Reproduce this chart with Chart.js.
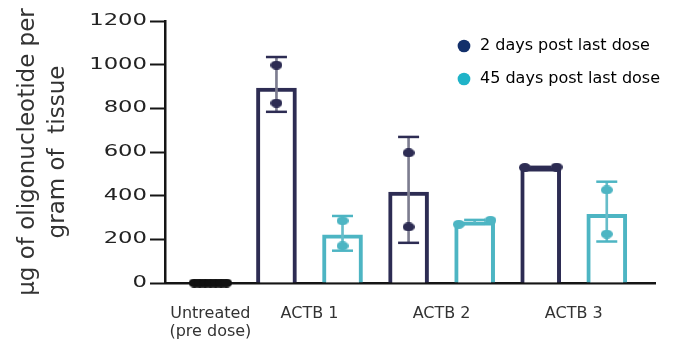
<!DOCTYPE html>
<html>
<head>
<meta charset="utf-8">
<script src="https://cdn.jsdelivr.net/npm/chart.js@4.4.1/dist/chart.umd.min.js"></script>
<style>
  html, body { margin: 0; padding: 0; background: #fff; }
  #chart { display: block; }
</style>
</head>
<body>
<canvas id="chart" width="686" height="345"></canvas>
<script>
// ---------- DATA ----------
const GROUP_LABELS   = [["Untreated", "(pre dose)"], "ACTB 1", "ACTB 2", "ACTB 3"];
const LEGEND_LABELS  = ["2 days post last dose", "45 days post last dose"];
const Y_TITLE        = ["µg of oligonucleotide per", "gram of  tissue"];

const UNTREATED_PTS  = [0, 0, 0, 0, 0, 0, 0];

const MEAN_2D        = [893, 417, 527];
const ERR_LO_2D      = [784, 184, 522];
const ERR_HI_2D      = [1035, 669, 532];
const PTS_2D         = [[998, 824], [596, 257], [529, 531]];

const MEAN_45D       = [221, 280, 315];
const ERR_LO_45D     = [148, 271, 190];
const ERR_HI_45D     = [307, 289, 464];
const PTS_45D        = [[285, 170], [269, 287], [426, 224]];

const Y_MAX = 1200, Y_STEP = 100, Y_LABEL_STEP = 200;

// ---------- STYLE ----------
const NAVY       = "#2d2c53";
const TEAL       = "#4db5c3";
const NAVY_STEM  = "#7d7d90";
const TEAL_STEM  = "#66bdc9";
const NAVY_LEG   = "#13306b";
const TEAL_LEG   = "#1fb3c8";
const AXIS       = "#151515";
const TEXT       = "#333";
const JITTER     = 0.24;     // half spread (in slots) for overlapping points
const TICK_STRETCH = 1.42;   // y tick numbers are drawn wide in the original
const LEGEND_LEFT  = 439;

Chart.defaults.font.family = "'DejaVu Sans', Verdana, sans-serif";
Chart.defaults.color = TEXT;

// slot 0 = untreated, then dark/teal pairs per group
const darkX  = MEAN_2D.map((_, i) => 2 * i + 1);
const tealX  = MEAN_45D.map((_, i) => 2 * i + 2);
const labelX = [0, ...darkX.map(x => x + 0.5)];

function spread(vals) {
  const close = Math.max(...vals) - Math.min(...vals) < 40;
  const n = vals.length;
  return vals.map((_, i) => (close && n > 1) ? -JITTER + 2 * JITTER * i / (n - 1) : 0);
}
function points(xs, groups) {
  const out = [];
  groups.forEach((vals, g) => {
    const off = spread(vals);
    vals.forEach((v, i) => out.push({ x: xs[g] + off[i], y: v }));
  });
  return out;
}
function makeDot(color) {
  const c = document.createElement("canvas");
  c.width = 12; c.height = 9;
  const g = c.getContext("2d");
  g.fillStyle = color;
  g.beginPath(); g.ellipse(6, 4.5, 6, 4.5, 0, 0, Math.PI * 2); g.fill();
  return c;
}

const bars = (xs, ys, color) => ({
  type: "bar", order: 4, grouped: false,
  data: xs.map((x, i) => ({ x, y: ys[i] })),
  backgroundColor: "#fff", borderColor: color, borderWidth: 4, barThickness: 40
});
const stems = (xs, lo, hi, color) => ({
  type: "bar", order: 3, grouped: false,
  data: xs.map((x, i) => ({ x, y: [lo[i], hi[i]] })),
  backgroundColor: color, borderWidth: 0, barThickness: 2
});
const caps = (xs, lo, hi, color) => ({
  type: "scatter", order: 2, clip: false,
  data: xs.flatMap((x, i) => [{ x, y: lo[i] }, { x, y: hi[i] }]),
  pointStyle: "line", pointRadius: 10.5, borderColor: color, borderWidth: 2.5
});
const dots = (data, color) => ({
  type: "scatter", order: 1, clip: false,
  data, pointStyle: makeDot(color)
});

// ---------- PLUGINS ----------
const layoutTweaks = {
  id: "layoutTweaks",
  afterLayout(chart) {
    // legend sits inside the plot, top right
    const lg = chart.legend, a = chart.chartArea;
    if (!lg) return;
    lg.left = LEGEND_LEFT; lg.right = chart.width;
    lg.top = a.top; lg.bottom = a.bottom;
  },
  beforeDraw(chart) {
    const y = chart.scales.y;
    if (!y || y._wide) return;
    const orig = y.drawLabels;
    y.drawLabels = function (area) {
      const ctx = this.ctx;
      const xr = this.right - this.options.grid.tickLength - this.options.ticks.padding;
      ctx.save();
      ctx.translate(xr, 0); ctx.scale(TICK_STRETCH, 1); ctx.translate(-xr, 0);
      orig.call(this, area);
      ctx.restore();
    };
    y._wide = true;
  }
};

// ---------- CHART ----------
new Chart(document.getElementById("chart"), {
  type: "bar",
  data: {
    datasets: [
      bars(darkX, MEAN_2D, NAVY),
      bars(tealX, MEAN_45D, TEAL),
      stems(darkX, ERR_LO_2D, ERR_HI_2D, NAVY_STEM),
      stems(tealX, ERR_LO_45D, ERR_HI_45D, TEAL_STEM),
      caps(darkX, ERR_LO_2D, ERR_HI_2D, NAVY),
      caps(tealX, ERR_LO_45D, ERR_HI_45D, TEAL),
      dots(points([0], [UNTREATED_PTS]), "#111"),
      dots(points(darkX, PTS_2D), NAVY),
      dots(points(tealX, PTS_45D), TEAL)
    ]
  },
  options: {
    responsive: false,
    animation: false,
    events: [],
    layout: { padding: { left: 0, right: 31, top: 21, bottom: 0 } },
    scales: {
      x: {
        type: "linear", min: -0.687, max: 6.73, offset: false,
        grid: { display: false },
        border: { display: true, color: AXIS, width: 2.5 },
        afterBuildTicks: s => { s.ticks = labelX.map(v => ({ value: v })); },
        afterFit: s => { s.height = 62; },
        ticks: {
          autoSkip: false, maxRotation: 0, padding: 14,
          font: { size: 16, lineHeight: 1.1 },
          color: TEXT,
          callback: (v, i) => GROUP_LABELS[i]
        }
      },
      y: {
        min: 0, max: Y_MAX,
        afterFit: s => { s.width = 165; },
        border: { display: true, color: AXIS, width: 2.5 },
        grid: {
          drawOnChartArea: false,
          tickLength: 15, tickWidth: 2, tickColor: AXIS,
          tickBorderDash: [15, 7, 8, 0],
          tickBorderDashOffset: c => (c.tick && c.tick.value % Y_LABEL_STEP ? 15 : 0)
        },
        ticks: {
          stepSize: Y_STEP, padding: 3,
          font: { size: 16 }, color: "#222",
          callback: v => (v % Y_LABEL_STEP ? "" : v)
        },
        title: {
          display: true, text: Y_TITLE, color: TEXT,
          font: { size: 23, lineHeight: 1.3 },
          padding: { top: 13, bottom: 0 }
        }
      }
    },
    plugins: {
      tooltip: { enabled: false },
      legend: {
        position: "chartArea", align: "start",
        labels: {
          usePointStyle: true, boxWidth: 16, boxHeight: 9, padding: 17,
          font: { size: 16 }, color: TEXT,
          generateLabels: () => LEGEND_LABELS.map((t, i) => ({
            text: t, fillStyle: [NAVY_LEG, TEAL_LEG][i], strokeStyle: [NAVY_LEG, TEAL_LEG][i],
            lineWidth: 0, pointStyle: "circle", hidden: false, datasetIndex: i
          }))
        }
      }
    }
  },
  plugins: [layoutTweaks]
});
</script>
</body>
</html>
